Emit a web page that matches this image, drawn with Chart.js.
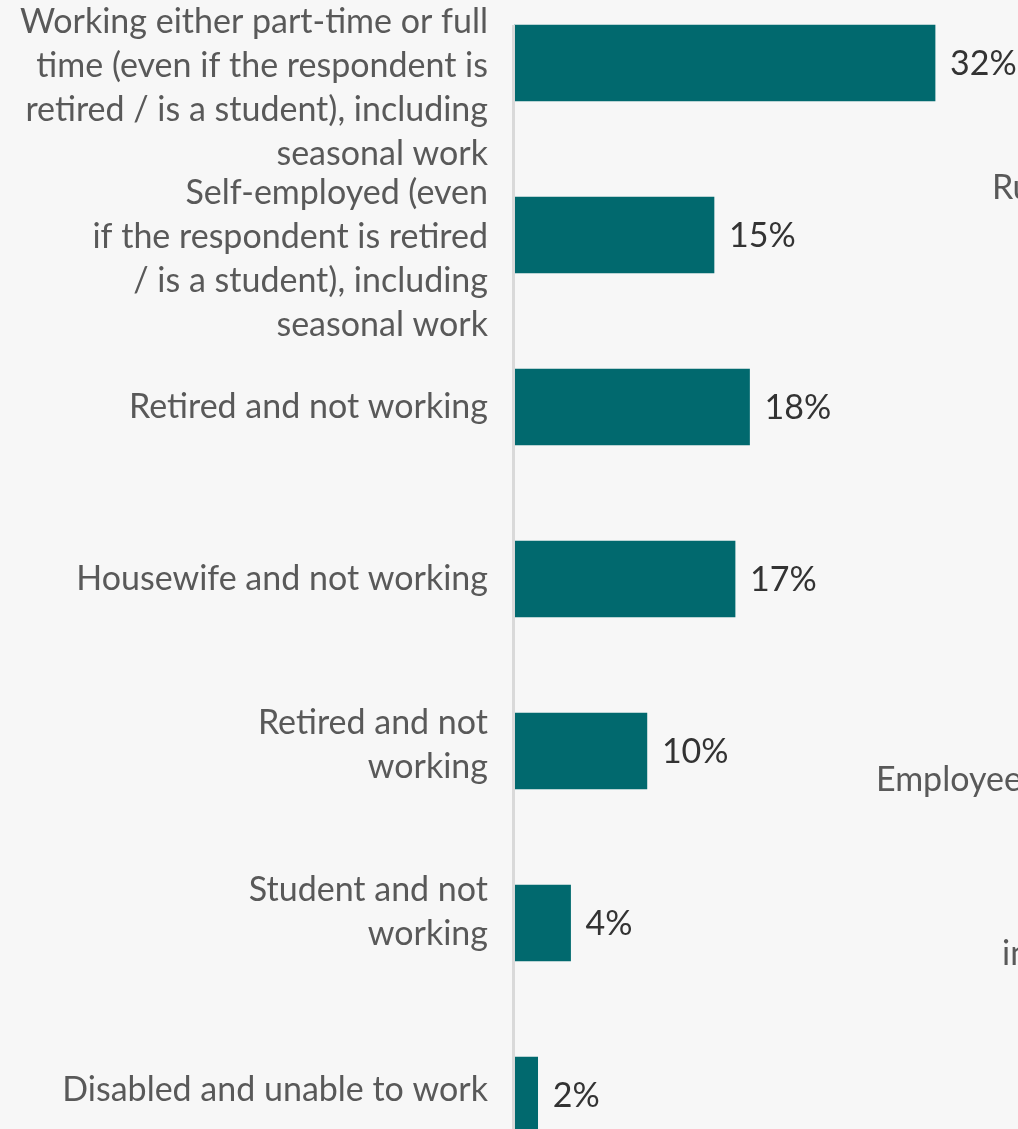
<!DOCTYPE html>
<html>
<head>
<meta charset="utf-8">
<script src="https://cdn.jsdelivr.net/npm/chart.js@4"></script>
<style>
    html, body { margin: 0; padding: 0; background: #f7f7f7; overflow: hidden; }
    #wrap { position: absolute; left: 0; top: -23px; width: 1018px; height: 1204px; }
</style>
</head>
<body>
<div id="wrap"><canvas id="grafico" width="1018" height="1204"></canvas></div>
<script>
// Categorias (com quebras de linha como no original)
var categorias = [
    ['Working either part-time or full', 'time (even if the respondent is', 'retired / is a student), including', 'seasonal work'],
    ['Self-employed (even', 'if the respondent is retired', '/ is a student), including', 'seasonal work'],
    ['Retired and not working'],
    ['Housewife and not working'],
    ['Retired and not', 'working'],
    ['Student and not', 'working'],
    ['Disabled and unable to work']
];
var valores = [32, 15.2, 17.9, 16.8, 10.1, 4.3, 1.8];
var rotulos = ['32%', '15%', '18%', '17%', '10%', '4%', '2%'];

// Textos do gráfico vizinho, cortados na borda direita
var textosVizinhos = ['Ru', 'Employee', 'in'];

// deslocamento vertical dos rótulos (px), como no slide original
var deslocamento = [25, 24, 0, 0, -6, -11, -5];

var FONTE = '34px Lato';

var rotulosPlugin = {
    id: 'rotulos',
    afterDatasetsDraw: function (chart) {
        var ctx = chart.ctx;
        var y = chart.scales.y;
        var meta = chart.getDatasetMeta(0);
        ctx.save();
        ctx.font = FONTE;
        ctx.textBaseline = 'middle';

        // linha do eixo, começando no topo da primeira barra
        var topo = meta.data[0].y - meta.data[0].height / 2;
        ctx.fillStyle = '#d9d9d9';
        ctx.fillRect(chart.chartArea.left - 2, topo, 3, chart.height - topo);

        // rótulos das categorias
        ctx.fillStyle = '#595959';
        ctx.textAlign = 'right';
        categorias.forEach(function (linhas, i) {
            var cy = y.getPixelForValue(i) + deslocamento[i];
            var y0 = cy - (linhas.length - 1) * 44 / 2;
            linhas.forEach(function (txt, k) {
                ctx.fillText(txt, 488, y0 + k * 44);
            });
        });

        // valores das barras
        ctx.fillStyle = '#333333';
        ctx.textAlign = 'left';
        meta.data.forEach(function (bar, i) {
            ctx.fillText(rotulos[i], bar.x + 15, bar.y + 1);
        });

        // pedaços do gráfico ao lado
        ctx.fillStyle = '#595959';
        ctx.fillText(textosVizinhos[0], 992, 211);
        ctx.fillText(textosVizinhos[1], 876, 803);
        ctx.fillText(textosVizinhos[2], 1002, 977);
        ctx.restore();
    }
};

new Chart(document.getElementById('grafico'), {
    type: 'bar',
    data: {
        labels: categorias,
        datasets: [{
            data: valores,
            backgroundColor: '#01696e',
            borderWidth: 0,
            categoryPercentage: 1,
            barThickness: 76
        }]
    },
    options: {
        indexAxis: 'y',
        responsive: false,
        animation: false,
        layout: { padding: { left: 514, right: 4, top: 0, bottom: 0 } },
        plugins: {
            legend: { display: false },
            tooltip: { enabled: false }
        },
        scales: {
            x: { display: false, min: 0, max: 38 },
            y: { display: false, offset: true }
        }
    },
    plugins: [rotulosPlugin]
});
</script>
</body>
</html>
